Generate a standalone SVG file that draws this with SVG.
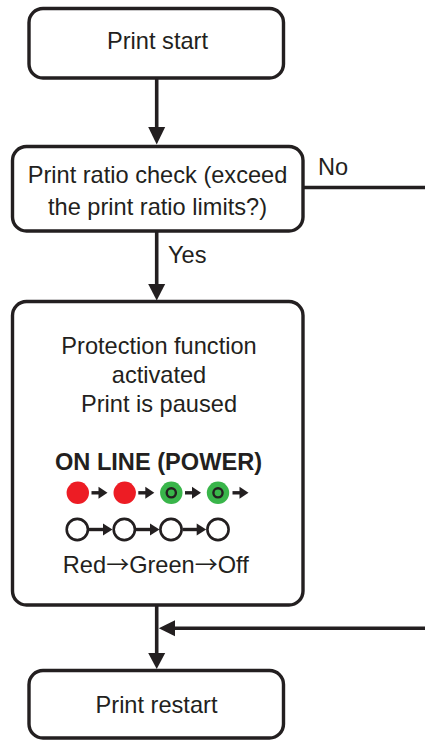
<svg xmlns="http://www.w3.org/2000/svg" width="425" height="741" viewBox="0 0 425 741">
<style>
.box{fill:#fff;stroke:#231f20;stroke-width:3.4}
.t{font-family:"Liberation Sans",Arial,sans-serif;font-size:23.6px;fill:#231f20;text-anchor:middle}
.b{font-weight:bold}
.l{text-anchor:start}
.ar{font-family:"Noto Sans CJK JP","Noto Sans CJK SC",sans-serif;font-size:23px}
.ln{stroke:#231f20;stroke-width:3.6;fill:none}
.hd{fill:#231f20}
.red{fill:#ed1c24}
.grn{fill:#39b54a}
.ring{fill:none;stroke:#231f20;stroke-width:2.4}
.off{fill:#fff;stroke:#231f20;stroke-width:2.6}
.sl{stroke:#231f20;stroke-width:3.4}
</style>
<defs>
<g id="sarrow"><line class="sl" x1="0" y1="0" x2="9" y2="0"/><polygon class="hd" points="7,-6 16,0 7,6"/></g>
<g id="larrow"><line class="sl" x1="0" y1="0" x2="16" y2="0"/><polygon class="hd" points="14,-6 23.5,0 14,6"/></g>
</defs>
<rect width="425" height="741" fill="#fff"/>
<g id="connectors">
<line class="ln" x1="156.7" y1="78" x2="156.7" y2="129"/>
<polygon class="hd" points="148.2,127 165.2,127 156.7,144.5"/>
<line class="ln" x1="303" y1="187.5" x2="425" y2="187.5"/>
<line class="ln" x1="156.7" y1="231" x2="156.7" y2="286"/>
<polygon class="hd" points="148.2,284 165.2,284 156.7,300.5"/>
<line class="ln" x1="156.7" y1="605" x2="156.7" y2="655"/>
<polygon class="hd" points="148.2,653 165.2,653 156.7,669"/>
<line class="ln" x1="425" y1="628.3" x2="173" y2="628.3"/>
<polygon class="hd" points="175,620.3 175,636.3 158.8,628.3"/>
<text class="t l" x="318" y="175">No</text>
<text class="t l" x="168" y="263">Yes</text>
</g>
<g id="print-start">
<rect class="box" x="29" y="8.5" width="254.5" height="69.5" rx="14"/>
<text class="t" x="157.5" y="49">Print start</text>
</g>
<g id="ratio-check">
<rect class="box" x="12.5" y="146.5" width="290.5" height="84.5" rx="14"/>
<text class="t" x="157.5" y="183">Print ratio check (exceed</text>
<text class="t" x="157.5" y="215">the print ratio limits?)</text>
</g>
<g id="protection">
<rect class="box" x="12.5" y="301.5" width="290.5" height="303.5" rx="14"/>
<text class="t" x="159" y="354">Protection function</text>
<text class="t" x="159" y="383">activated</text>
<text class="t" x="159" y="412">Print is paused</text>
<text class="t b" x="158.5" y="470">ON LINE (POWER)</text>
<circle class="red" cx="77.8" cy="492.8" r="11.2"/>
<use href="#sarrow" x="91.5" y="492.8"/>
<circle class="red" cx="124.7" cy="492.8" r="11.2"/>
<use href="#sarrow" x="138.3" y="492.8"/>
<circle class="grn" cx="171.3" cy="492.8" r="11.2"/>
<circle class="ring" cx="171.3" cy="492.8" r="4.6"/>
<use href="#sarrow" x="185" y="492.8"/>
<circle class="grn" cx="218" cy="492.8" r="11.2"/>
<circle class="ring" cx="218" cy="492.8" r="4.6"/>
<use href="#sarrow" x="232.5" y="492.8"/>
<circle class="off" cx="77.3" cy="529.5" r="10.6"/>
<use href="#larrow" x="89" y="529.5"/>
<circle class="off" cx="124.3" cy="529.5" r="10.6"/>
<use href="#larrow" x="136" y="529.5"/>
<circle class="off" cx="171" cy="529.5" r="10.6"/>
<use href="#larrow" x="182.7" y="529.5"/>
<circle class="off" cx="218" cy="529.5" r="10.6"/>
<text class="t" x="155.8" y="573">Red<tspan class="ar">→</tspan>Green<tspan class="ar">→</tspan>Off</text>
</g>
<g id="print-restart">
<rect class="box" x="29" y="670.5" width="254.5" height="67.5" rx="14"/>
<text class="t" x="156.5" y="713">Print restart</text>
</g>
</svg>
